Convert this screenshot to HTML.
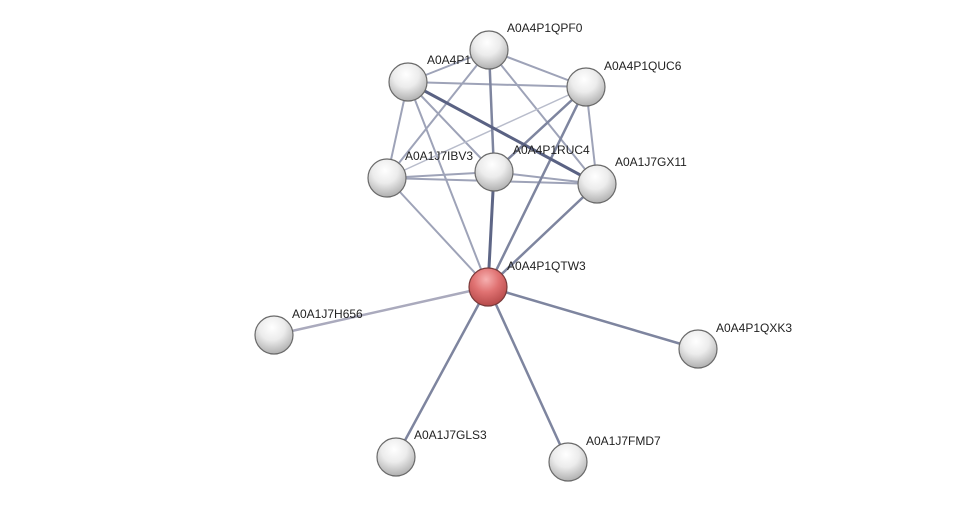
<!DOCTYPE html>
<html><head><meta charset="utf-8"><style>
html,body{margin:0;padding:0;background:#fff;}
svg{display:block;}
text{font-family:"Liberation Sans",sans-serif;font-size:12px;fill:#222;}
</style></head><body>
<svg width="976" height="508" viewBox="0 0 976 508" xmlns="http://www.w3.org/2000/svg">
<defs>
<radialGradient id="w" cx="0.45" cy="0.3" r="0.75">
<stop offset="0" stop-color="#ffffff"/><stop offset="0.45" stop-color="#ececec"/><stop offset="1" stop-color="#a8a8a8"/>
</radialGradient>
<radialGradient id="r" cx="0.45" cy="0.3" r="0.75">
<stop offset="0" stop-color="#f6b0b0"/><stop offset="0.45" stop-color="#e07272"/><stop offset="1" stop-color="#b04444"/>
</radialGradient>
</defs>
<g stroke-linecap="round">
<g stroke="#9ea3b8" stroke-width="2">
<line x1="408" y1="82" x2="586" y2="87"/>
<line x1="408" y1="82" x2="387" y2="178"/>
<line x1="408" y1="82" x2="488" y2="287"/>
<line x1="408" y1="82" x2="494" y2="172"/>
<line x1="489" y1="50" x2="586" y2="87"/>
<line x1="489" y1="50" x2="387" y2="178"/>
<line x1="489" y1="50" x2="597" y2="184"/>
<line x1="489" y1="50" x2="408" y2="82"/>
<line x1="387" y1="178" x2="494" y2="172"/>
<line x1="387" y1="178" x2="597" y2="184"/>
<line x1="387" y1="178" x2="488" y2="287"/>
<line x1="494" y1="172" x2="597" y2="184"/>
<line x1="586" y1="87" x2="597" y2="184"/>
</g>
<line x1="586" y1="87" x2="387" y2="178" stroke="#b8bccb" stroke-width="1.5"/>
<g stroke="#7e859f" stroke-width="2.5">
<line x1="586" y1="87" x2="494" y2="172"/>
<line x1="586" y1="87" x2="488" y2="287"/>
<line x1="597" y1="184" x2="488" y2="287"/>
<line x1="489" y1="50" x2="494" y2="172"/>
<line x1="488" y1="287" x2="698" y2="349"/>
<line x1="488" y1="287" x2="396" y2="457"/>
<line x1="488" y1="287" x2="568" y2="462"/>
</g>
<line x1="408" y1="82" x2="597" y2="184" stroke="#5a6283" stroke-width="3"/>
<line x1="494" y1="172" x2="488" y2="287" stroke="#5e6686" stroke-width="3"/>
<line x1="488" y1="287" x2="274" y2="335" stroke="#aaaabd" stroke-width="2.5"/>
</g>
<g stroke="#6a6a6a" stroke-width="1.2">
<circle cx="489" cy="50" r="19" fill="url(#w)"/>
<circle cx="408" cy="82" r="19" fill="url(#w)"/>
<circle cx="586" cy="87" r="19" fill="url(#w)"/>
<circle cx="387" cy="178" r="19" fill="url(#w)"/>
<circle cx="494" cy="172" r="19" fill="url(#w)"/>
<circle cx="597" cy="184" r="19" fill="url(#w)"/>
<circle cx="274" cy="335" r="19" fill="url(#w)"/>
<circle cx="698" cy="349" r="19" fill="url(#w)"/>
<circle cx="396" cy="457" r="19" fill="url(#w)"/>
<circle cx="568" cy="462" r="19" fill="url(#w)"/>
<circle cx="488" cy="287" r="19" fill="url(#r)" stroke="#7a3a3a"/>
</g>
<text x="507" y="32">A0A4P1QPF0</text>
<text x="427" y="64">A0A4P1</text>
<text x="604" y="70">A0A4P1QUC6</text>
<text x="405" y="160">A0A1J7IBV3</text>
<text x="513" y="154">A0A4P1RUC4</text>
<text x="615" y="166">A0A1J7GX11</text>
<text x="507" y="270">A0A4P1QTW3</text>
<text x="292" y="318">A0A1J7H656</text>
<text x="716" y="332">A0A4P1QXK3</text>
<text x="414" y="439">A0A1J7GLS3</text>
<text x="586" y="445">A0A1J7FMD7</text>
</svg>
</body></html>
